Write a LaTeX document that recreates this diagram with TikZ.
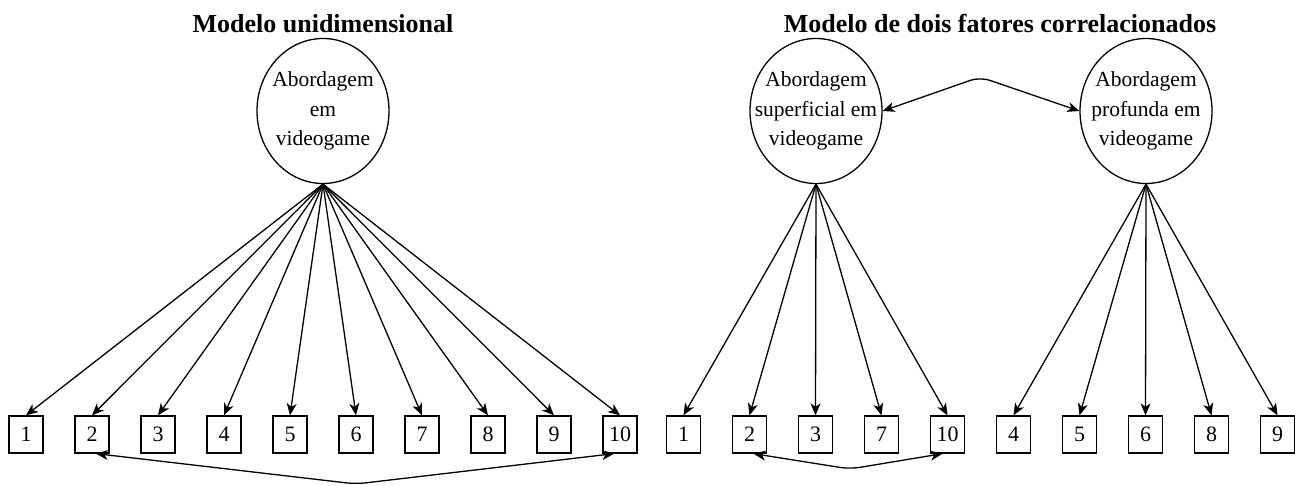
\documentclass[tikz,border=0pt]{standalone}
\usepackage{fontspec}
\setmainfont{Liberation Serif}
\usetikzlibrary{shapes.geometric,arrows.meta,calc}
\begin{document}
\begin{tikzpicture}[x=1pt,y=1pt,
  latent/.style={draw,line width=1.3pt,ellipse,minimum width=132pt,minimum height=145pt,inner sep=0pt},
  ltext/.style={align=center,inner sep=0pt,font=\fontsize{21.5}{29.5}\selectfont},
  item/.style={draw,line width=1.3pt,rectangle,minimum width=34pt,minimum height=37pt,inner sep=0pt,font=\fontsize{22}{26}\selectfont},
  ttl/.style={font=\fontsize{26}{30}\selectfont\bfseries,anchor=base,inner sep=0pt},
  load/.style={line width=1.3pt,-{Stealth[length=12pt,width=10pt,inset=3.5pt]}},
  corr/.style={line width=1.3pt,{Stealth[length=12pt,width=10pt,inset=3.5pt]}-{Stealth[length=12pt,width=10pt,inset=3.5pt]},rounded corners=10pt}]
\useasboundingbox (0,0) rectangle (1295,-486);
% titles
\node[ttl] (t1) at (323,-33) {Modelo unidimensional};
\node[ttl] (t2) at (1000,-33) {Modelo de dois fatores correlacionados};
% left model
\node[latent,label={[ltext]center:Abordagem\\em\\videogame}] (L) at (323,-111) {};
\foreach \i in {1,...,10}{
  \node[item] (l\i) at ({26+66*(\i-1)},-434.5) {\i};
  \draw[load] (L.south) -- (l\i.north);
}
\coordinate (lb) at (356,-484);
\draw[corr] ([xshift=4pt]l2.south) -- (lb) -- ([xshift=-6pt]l10.south);
% right model
\node[latent,label={[ltext]center:Abordagem\\superficial em\\videogame}] (S) at (816,-111) {};
\node[latent,label={[ltext]center:Abordagem\\profunda em\\videogame}] (P) at (1146,-111) {};
\foreach \n/\x in {1/683.5,2/749.5,3/815.5,7/881.5,10/947.5}{
  \node[item] (r\n) at (\x,-434.5) {\n};
  \draw[load] (S.south) -- (r\n.north);
}
\foreach \n/\x in {4/1013.5,5/1079.5,6/1145.5,8/1211.5,9/1277.5}{
  \node[item] (r\n) at (\x,-434.5) {\n};
  \draw[load] (P.south) -- (r\n.north);
}
\coordinate (rt) at (980,-77);
\draw[corr] (S.east) -- (rt) -- (P.west);
\coordinate (rb) at (850,-469);
\draw[corr] ([xshift=4pt]r2.south) -- (rb) -- ([xshift=-5pt]r10.south);
\end{tikzpicture}
\end{document}
